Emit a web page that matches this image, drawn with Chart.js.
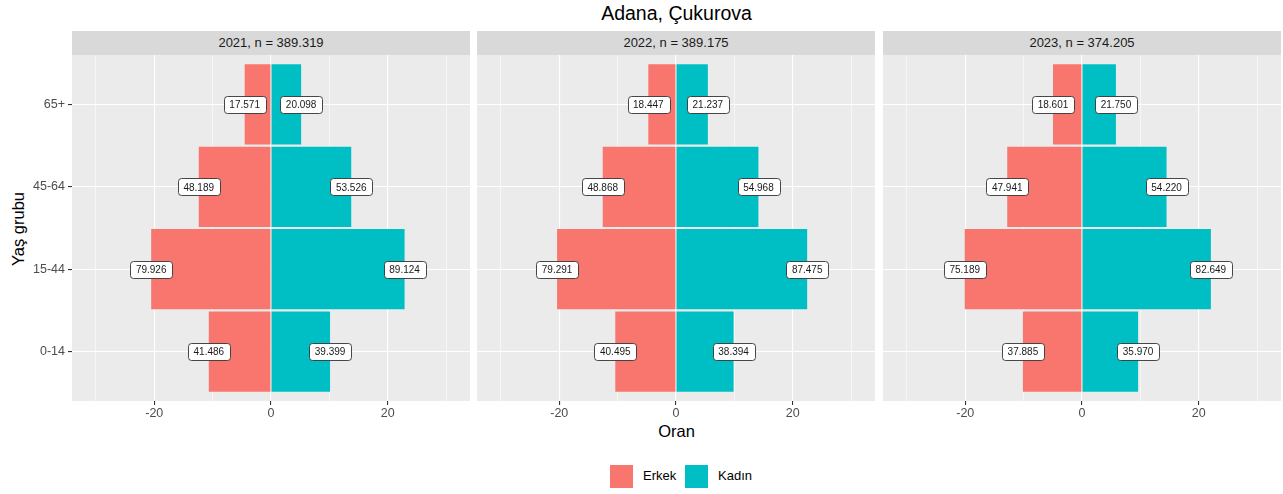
<!DOCTYPE html>
<html>
<head>
<meta charset="utf-8">
<script src="https://cdn.jsdelivr.net/npm/chart.js@4/dist/chart.umd.min.js"></script>
<style>
	body { margin: 0; width: 1283px; height: 494px; background: #fff; font-family: "Liberation Sans", Arial, sans-serif; position: relative; overflow: hidden; }
	.abs { position: absolute; }
	.strip { position: absolute; top: 31px; height: 24px; background: #D9D9D9; color: #1A1A1A; font-size: 13px; line-height: 24px; text-align: center; }
	#title { left: 72px; width: 1209px; top: 1px; text-align: center; font-size: 19.5px; line-height: 24px; color: #000; }
	#ytitle { left: 18px; top: 229px; font-size: 16.5px; color: #000; transform: translate(-50%, -50%) rotate(-90deg); white-space: nowrap; }
	#xtitle { left: 72px; width: 1209px; top: 421px; text-align: center; font-size: 16.5px; line-height: 20px; color: #000; }
	.swatch { position: absolute; top: 465px; width: 23px; height: 23px; }
	.legtext { position: absolute; top: 468px; font-size: 13px; line-height: 16px; color: #000; }
</style>
</head>
<body>
<div id="title" class="abs">Adana, Çukurova</div>
<div id="ytitle" class="abs">Yaş grubu</div>
<div id="xtitle" class="abs">Oran</div>

<div class="swatch" style="left:610px; background:#F8766D"></div>
<div class="legtext" style="left:643px">Erkek</div>
<div class="swatch" style="left:685px; background:#00BFC4"></div>
<div class="legtext" style="left:718px">Kadın</div>

<script>
// age groups, bottom to top
var age_groups = ["0-14", "15-44", "45-64", "65+"];
var years = [2021, 2022, 2023];

// counts per year (Erkek = male, Kadın = female)
var male_2021 = [41486, 79926, 48189, 17571];
var female_2021 = [39399, 89124, 53526, 20098];
var male_2022 = [40495, 79291, 48868, 18447];
var female_2022 = [38394, 87475, 54968, 21237];
var male_2023 = [37885, 75189, 47941, 18601];
var female_2023 = [35970, 82649, 54220, 21750];
var totals = [389319, 389175, 374205];

var x_ticks = [-30, -20, -10, 0, 10, 20, 30];

var RED = "#F8766D";
var TEAL = "#00BFC4";
var FONT = "'Liberation Sans', Arial, sans-serif";

function fmt(n) {
	return String(n).replace(/\B(?=(\d{3})+(?!\d))/g, ".");
}

var panels = [
	{ male: male_2021, female: female_2021, left: 30, width: 440, first: true },
	{ male: male_2022, female: female_2022, left: 477, width: 398, first: false },
	{ male: male_2023, female: female_2023, left: 883, width: 398, first: false }
];

var panelBg = {
	id: "panelBg",
	beforeDraw: function (chart) {
		var a = chart.chartArea;
		var ctx = chart.ctx;
		ctx.save();
		ctx.fillStyle = "#EBEBEB";
		ctx.fillRect(a.left, a.top, a.right - a.left, a.bottom - a.top);
		ctx.restore();
	}
};

function roundRect(ctx, x, y, w, h, r) {
	ctx.beginPath();
	ctx.moveTo(x + r, y);
	ctx.lineTo(x + w - r, y);
	ctx.arcTo(x + w, y, x + w, y + r, r);
	ctx.lineTo(x + w, y + h - r);
	ctx.arcTo(x + w, y + h, x + w - r, y + h, r);
	ctx.lineTo(x + r, y + h);
	ctx.arcTo(x, y + h, x, y + h - r, r);
	ctx.lineTo(x, y + r);
	ctx.arcTo(x, y, x + r, y, r);
	ctx.closePath();
}

// boxed count labels at the end of each bar
var countLabels = {
	id: "countLabels",
	afterDatasetsDraw: function (chart) {
		var ctx = chart.ctx;
		var xs = chart.scales.x;
		var ys = chart.scales.y;
		ctx.save();
		ctx.font = "10px " + FONT;
		ctx.textAlign = "center";
		ctx.textBaseline = "middle";
		chart.data.datasets.forEach(function (ds) {
			ds.data.forEach(function (pt, i) {
				var px = xs.getPixelForValue(pt.x);
				var py = ys.getPixelForValue(pt.y);
				var txt = fmt(ds.counts[i]);
				var w = ctx.measureText(txt).width + 11;
				var h = 17;
				roundRect(ctx, Math.round(px - w / 2) + 0.5, Math.round(py - h / 2) + 0.5, Math.round(w), h, 3);
				ctx.fillStyle = "#fff";
				ctx.fill();
				ctx.lineWidth = 0.9;
				ctx.strokeStyle = "#333";
				ctx.stroke();
				ctx.fillStyle = "#1A1A1A";
				ctx.fillText(txt, px, py + 1);
			});
		});
		ctx.restore();
	}
};

panels.forEach(function (p, k) {
	var strip = document.createElement("div");
	strip.className = "strip";
	var plotLeft = p.first ? p.left + 42 : p.left;
	strip.style.left = plotLeft + "px";
	strip.style.width = (p.left + p.width - plotLeft) + "px";
	strip.textContent = years[k] + ", n = " + fmt(totals[k]);
	document.body.appendChild(strip);

	var canvas = document.createElement("canvas");
	canvas.style.position = "absolute";
	canvas.style.left = p.left + "px";
	canvas.style.top = "55px";
	canvas.width = p.width;
	canvas.height = 370;
	canvas.style.width = p.width + "px";
	canvas.style.height = "370px";
	document.body.appendChild(canvas);

	var maleData = p.male.map(function (v, i) { return { x: -v / totals[k] * 100, y: i + 1 }; });
	var femaleData = p.female.map(function (v, i) { return { x: v / totals[k] * 100, y: i + 1 }; });

	new Chart(canvas.getContext("2d"), {
		type: "bar",
		data: {
			datasets: [
				{ label: "Erkek", data: maleData, counts: p.male, backgroundColor: RED, barPercentage: 0.975, categoryPercentage: 1 },
				{ label: "Kadın", data: femaleData, counts: p.female, backgroundColor: TEAL, barPercentage: 0.975, categoryPercentage: 1 }
			]
		},
		options: {
			indexAxis: "y",
			responsive: false,
			animation: false,
			layout: { padding: 0 },
			plugins: { legend: { display: false }, tooltip: { enabled: false } },
			scales: {
				x: {
					type: "linear",
					stacked: true,
					min: -34.1,
					max: 34.1,
					afterBuildTicks: function (scale) {
						scale.ticks = x_ticks.map(function (v) { return { value: v }; });
					},
					afterFit: function (scale) { scale.height = 24; },
					border: { display: false },
					grid: {
						color: "#FFFFFF",
						lineWidth: function (c) { return c.tick && c.tick.value % 20 === 0 ? 1.1 : 0.55; },
						tickColor: function (c) { return c.tick && c.tick.value % 20 === 0 ? "#333333" : "rgba(0,0,0,0)"; },
						tickLength: 4
					},
					ticks: {
						autoSkip: false,
						maxRotation: 0,
						padding: 1,
						color: "#4D4D4D",
						font: { family: FONT, size: 12.5 },
						callback: function (v) { return v % 20 === 0 ? String(v) : ""; }
					}
				},
				y: {
					type: "linear",
					stacked: true,
					offset: false,
					min: 0.4,
					max: 4.6,
					afterBuildTicks: function (scale) {
						scale.ticks = age_groups.map(function (g, i) { return { value: i + 1 }; });
					},
					afterFit: function (scale) {
						scale.width = p.first ? 42 : 0;
						scale.paddingTop = 0;
						scale.paddingBottom = 0;
					},
					border: { display: false },
					grid: {
						offset: false,
						color: "#FFFFFF",
						lineWidth: 1.1,
						tickColor: "#333333",
						tickLength: p.first ? 4 : 0
					},
					ticks: {
						display: p.first,
						padding: 3,
						color: "#4D4D4D",
						font: { family: FONT, size: 12.5 },
						callback: function (v) { return age_groups[v - 1]; }
					}
				}
			}
		},
		plugins: [panelBg, countLabels]
	});
});
</script>
</body>
</html>
